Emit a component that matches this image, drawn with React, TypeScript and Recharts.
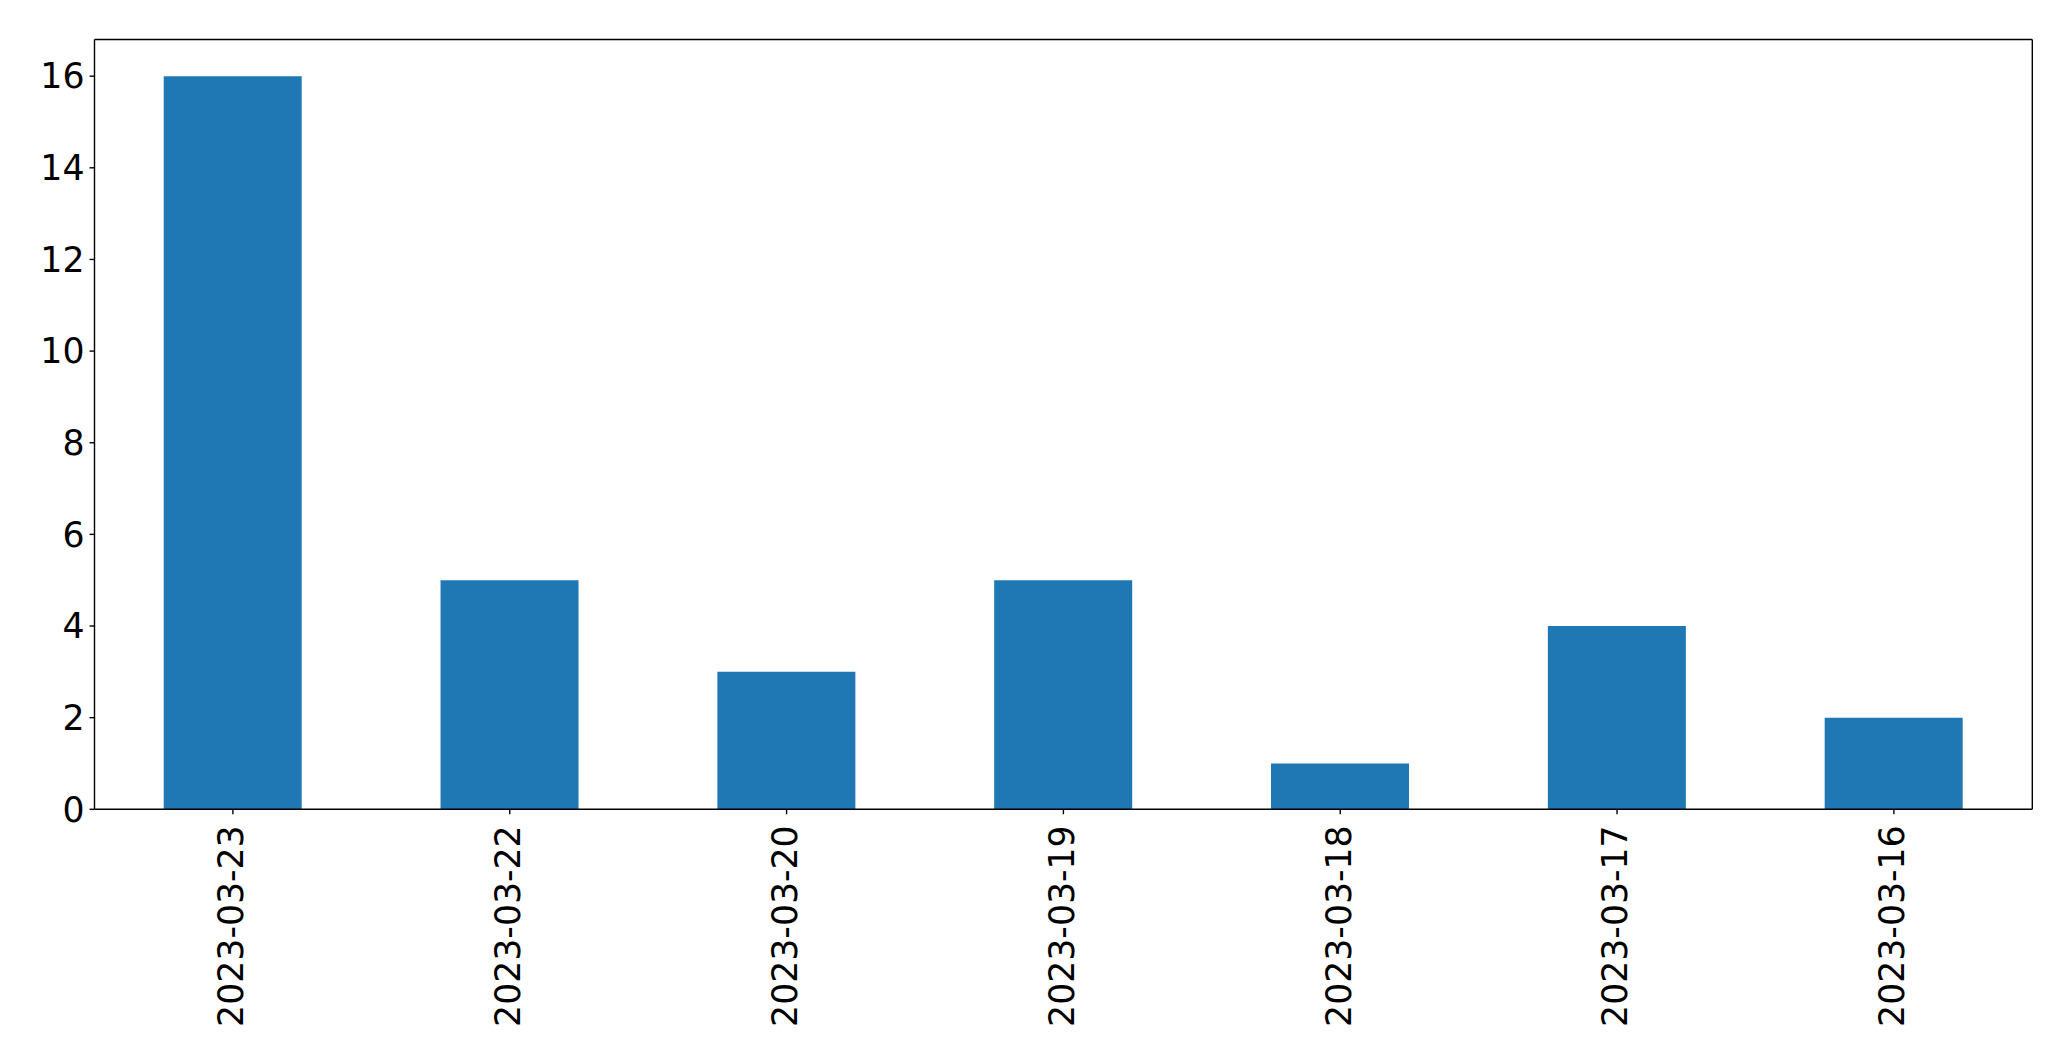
import React from "react";
import { BarChart, Bar, XAxis, YAxis, CartesianGrid } from "recharts";

const dates = ["2023-03-23", "2023-03-22", "2023-03-20", "2023-03-19", "2023-03-18", "2023-03-17", "2023-03-16"];
const counts = [16, 5, 3, 5, 1, 4, 2];
const yTicks = [0, 2, 4, 6, 8, 10, 12, 14, 16];

const data = dates.map((d, i) => ({ date: d, count: counts[i] }));

const FONT = "DejaVu Sans";
const FS = 34.7;
const LW = 1.4;

const XTick = (props: any) => {
  const { x, y, payload } = props;
  return (
    <text
      x={x}
      y={y}
      transform={`rotate(-90, ${x}, ${y})`}
      textAnchor="end"
      dy={10.4}
      fontFamily={FONT}
      fontSize={FS}
      fill="#000"
    >
      {payload.value}
    </text>
  );
};

export default function App() {
  return (
    <div style={{ position: "absolute", left: 0, top: 0, width: 2071, height: 1061, background: "#fff" }}>
      <BarChart
        width={2071}
        height={1061}
        data={data}
        margin={{ top: 39.5, right: 38.7, bottom: 0, left: 0 }}
        barCategoryGap="25%"
      >
        <CartesianGrid
          stroke="#000"
          strokeWidth={LW}
          horizontalCoordinatesGenerator={(p: any) => [p.offset.top]}
          verticalCoordinatesGenerator={(p: any) => [p.offset.left + p.offset.width]}
        />
        <XAxis
          dataKey="date"
          height={251.7}
          tickSize={5}
          tickMargin={11}
          tickLine={{ stroke: "#000", strokeWidth: LW }}
          axisLine={{ stroke: "#000", strokeWidth: LW }}
          tick={<XTick />}
          interval={0}
        />
        <YAxis
          width={94.5}
          domain={[0, 16.8]}
          ticks={yTicks}
          allowDataOverflow
          tickSize={5}
          tickMargin={5}
          tickLine={{ stroke: "#000", strokeWidth: LW }}
          axisLine={{ stroke: "#000", strokeWidth: LW }}
          tick={{ fill: "#000", fontSize: FS, fontFamily: FONT }}
        />
        <Bar dataKey="count" fill="#1f77b4" isAnimationActive={false} />
      </BarChart>
    </div>
  );
}
